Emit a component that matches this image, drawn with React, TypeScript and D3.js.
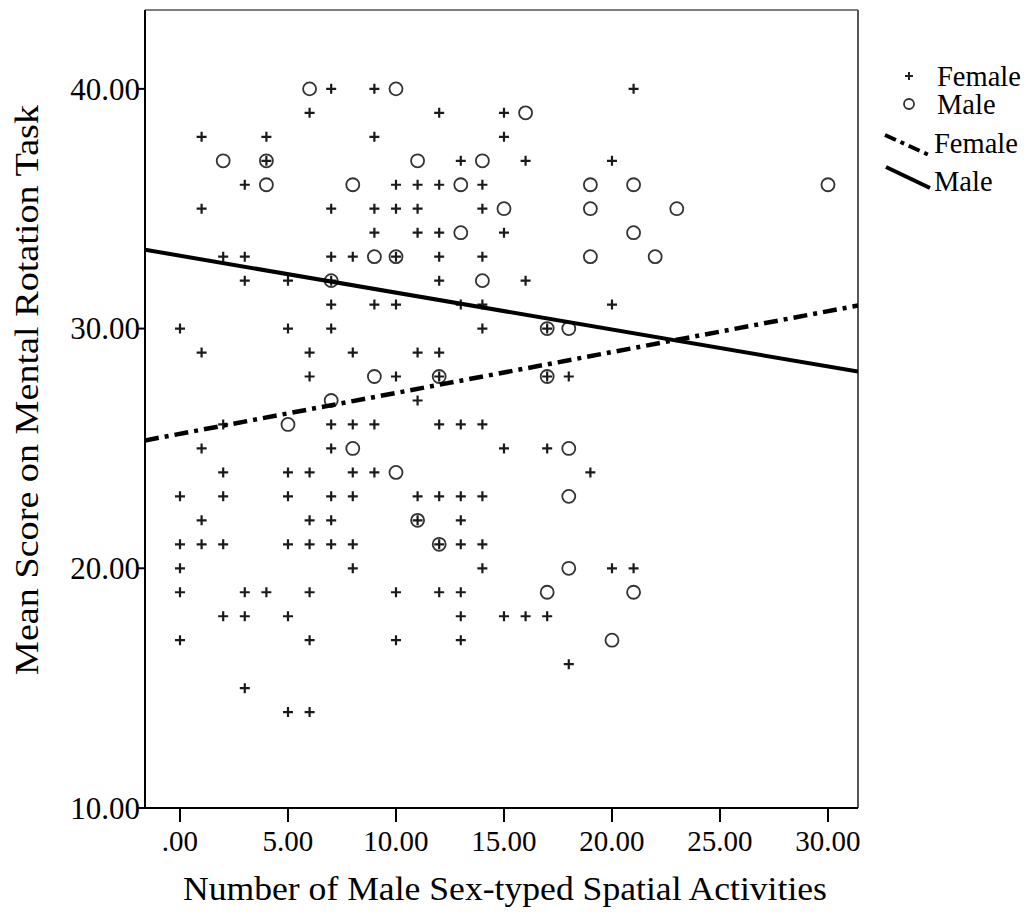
import React from 'react';
import * as d3 from 'd3';

// chart box (the picture is 1035 x 915)
const W = 1035;
const H = 915;
const LEFT = 145;
const RIGHT = 858;
const TOP = 10;
const BOTTOM = 808;
const FONT = 'Liberation Serif, Times New Roman, Times, serif';

// [activities, mental rotation score]
const femalePoints: [number, number][] = [
  [7, 40], [9, 40], [21, 40],
  [6, 39], [12, 39], [15, 39],
  [1, 38], [4, 38], [9, 38], [15, 38],
  [4, 37], [13, 37], [16, 37], [20, 37],
  [3, 36], [10, 36], [11, 36], [12, 36], [14, 36],
  [1, 35], [7, 35], [9, 35], [10, 35], [11, 35], [14, 35],
  [9, 34], [11, 34], [12, 34], [15, 34],
  [2, 33], [3, 33], [7, 33], [8, 33], [10, 33], [12, 33], [14, 33],
  [3, 32], [5, 32], [7, 32], [12, 32], [16, 32],
  [7, 31], [9, 31], [10, 31], [13, 31], [14, 31], [20, 31],
  [0, 30], [5, 30], [7, 30], [14, 30], [17, 30],
  [1, 29], [6, 29], [8, 29], [11, 29], [12, 29],
  [6, 28], [10, 28], [12, 28], [17, 28], [18, 28],
  [11, 27],
  [2, 26], [7, 26], [8, 26], [9, 26], [12, 26], [13, 26], [14, 26],
  [1, 25], [7, 25], [15, 25], [17, 25],
  [2, 24], [5, 24], [6, 24], [8, 24], [9, 24], [19, 24],
  [0, 23], [2, 23], [5, 23], [7, 23], [8, 23], [11, 23], [12, 23], [13, 23], [14, 23],
  [1, 22], [6, 22], [7, 22], [11, 22], [13, 22],
  [0, 21], [1, 21], [2, 21], [5, 21], [6, 21], [7, 21], [8, 21], [12, 21], [13, 21], [14, 21],
  [0, 20], [8, 20], [14, 20], [20, 20], [21, 20],
  [0, 19], [3, 19], [4, 19], [6, 19], [10, 19], [12, 19], [13, 19],
  [2, 18], [3, 18], [5, 18], [13, 18], [15, 18], [16, 18], [17, 18],
  [0, 17], [6, 17], [10, 17], [13, 17],
  [18, 16],
  [3, 15],
  [5, 14], [6, 14],
];

const malePoints: [number, number][] = [
  [6, 40], [10, 40],
  [16, 39],
  [2, 37], [4, 37], [11, 37], [14, 37],
  [4, 36], [8, 36], [13, 36], [19, 36], [21, 36], [30, 36],
  [15, 35], [19, 35], [23, 35],
  [13, 34], [21, 34],
  [9, 33], [10, 33], [19, 33], [22, 33],
  [7, 32], [14, 32],
  [17, 30], [18, 30],
  [9, 28], [12, 28], [17, 28],
  [7, 27],
  [5, 26],
  [8, 25], [18, 25],
  [10, 24],
  [18, 23],
  [11, 22],
  [12, 21],
  [18, 20],
  [17, 19], [21, 19],
  [20, 17],
];

// fit lines: [intercept, slope]
const femaleFit = [25.61, 0.1705];
const maleFit = [33.04, -0.154];

const xTicks = [0, 5, 10, 15, 20, 25, 30];
const yTicks = [10, 20, 30, 40];

const legendLabels = ['Female', 'Male', 'Female', 'Male'];

const fmt = (v: number) => d3.format('.2f')(v).replace(/^0\./, '.');

export default function App() {
  const x = d3.scaleLinear().domain([-1.62, 31.39]).range([LEFT, RIGHT]);
  const y = d3.scaleLinear().domain([10, 43.29]).range([BOTTOM, TOP]);

  const fitLine = (fit: number[]) => {
    const [a, b] = fit;
    const dom = x.domain();
    return d3.line<number>()
      .x(d => x(d))
      .y(d => y(a + b * d))(dom) as string;
  };

  const plus = (cx: number, cy: number, s: number) =>
    `M${cx - s},${cy}H${cx + s}M${cx},${cy - s}V${cy + s}`;

  return (
    <svg width={W} height={H} viewBox={`0 0 ${W} ${H}`}
      style={{ position: 'absolute', left: 0, top: 0, background: '#fff' }}
      xmlns="http://www.w3.org/2000/svg">
      <rect x={0} y={0} width={W} height={H} fill="#fff" />

      <defs>
        <clipPath id="plot">
          <rect x={LEFT} y={TOP} width={RIGHT - LEFT} height={BOTTOM - TOP} />
        </clipPath>
      </defs>

      {/* frame */}
      <line x1={LEFT} x2={RIGHT} y1={TOP} y2={TOP} stroke="#555" strokeWidth={1.5} />
      <line x1={RIGHT} x2={RIGHT} y1={TOP} y2={BOTTOM} stroke="#555" strokeWidth={2} />

      {/* points */}
      <g stroke="#1a1a1a" fill="none">
        {femalePoints.map((p, i) => (
          <path key={`f-${i}`} d={plus(x(p[0]), y(p[1]), 5)} strokeWidth={2.2} />
        ))}
        {malePoints.map((p, i) => (
          <circle key={`m-${i}`} cx={x(p[0])} cy={y(p[1])} r={6.5} strokeWidth={1.8} stroke="#333" />
        ))}
      </g>

      {/* fit lines */}
      <g clipPath="url(#plot)" fill="none" stroke="#000">
        <path d={fitLine(femaleFit)} strokeWidth={4.5} strokeDasharray="14 6 4 6" />
        <path d={fitLine(maleFit)} strokeWidth={4} />
      </g>

      {/* axes */}
      <line x1={LEFT} x2={LEFT} y1={TOP} y2={BOTTOM} stroke="#000" strokeWidth={2} />
      <line x1={LEFT} x2={RIGHT} y1={BOTTOM} y2={BOTTOM} stroke="#000" strokeWidth={2} />

      <g fontFamily={FONT} fill="#000">
        {yTicks.map(t => (
          <g key={`yt-${t}`}>
            <line x1={LEFT - 7} x2={LEFT} y1={y(t)} y2={y(t)} stroke="#000" strokeWidth={2} />
            <text x={LEFT - 5} y={y(t)} dy="0.35em" textAnchor="end" fontSize={31}>{fmt(t)}</text>
          </g>
        ))}
        {xTicks.map(t => (
          <g key={`xt-${t}`}>
            <line x1={x(t)} x2={x(t)} y1={BOTTOM} y2={BOTTOM + 14} stroke="#000" strokeWidth={2} />
            <text x={x(t)} y={851} textAnchor="middle" fontSize={29}>{fmt(t)}</text>
          </g>
        ))}
      </g>

      {/* axis titles */}
      <text x={505} y={900} textAnchor="middle" fontFamily={FONT} fontSize={33}
        textLength={644} lengthAdjust="spacingAndGlyphs">
        Number of Male Sex-typed Spatial Activities
      </text>
      <text transform="translate(38,390) rotate(-90)" textAnchor="middle" fontFamily={FONT}
        fontSize={33} textLength={570} lengthAdjust="spacingAndGlyphs">
        Mean Score on Mental Rotation Task
      </text>

      {/* legend */}
      <g fontFamily={FONT} fontSize={28.5} fill="#000">
        <path d={plus(909, 76, 4)} stroke="#222" strokeWidth={2} fill="none" />
        <circle cx={909} cy={104} r={5} stroke="#333" strokeWidth={1.8} fill="none" />
        <line x1={885} y1={135} x2={929} y2={155} stroke="#000" strokeWidth={4}
          strokeDasharray="12 5 4 5" />
        <line x1={886} y1={167} x2={930} y2={188} stroke="#000" strokeWidth={4} />
        {legendLabels.map((l, i) => (
          <text key={`lg-${i}`} x={i < 2 ? 937 : 934} y={[76, 104, 143, 181][i]} dy="0.35em">{l}</text>
        ))}
      </g>
    </svg>
  );
}
